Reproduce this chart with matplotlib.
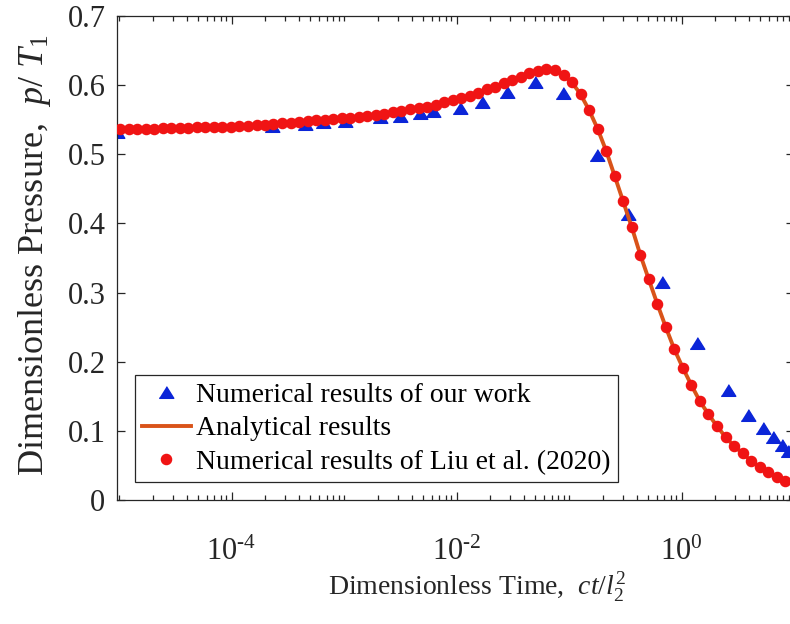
import numpy as np
import matplotlib.pyplot as plt
from matplotlib.ticker import FixedLocator, LogLocator, NullFormatter

plt.rcParams['font.family'] = ['Liberation Serif', 'DejaVu Serif']
plt.rcParams['mathtext.fontset'] = 'custom'
plt.rcParams['mathtext.rm'] = 'Liberation Serif'
plt.rcParams['mathtext.it'] = 'Liberation Serif:italic'
plt.rcParams['mathtext.bf'] = 'Liberation Serif:bold'

# Liu et al. (2020): log10 of dimensionless time and pressure
liu_logt = [-4.991, -4.915, -4.839, -4.764, -4.688, -4.612, -4.536, -4.460, -4.385, -4.309,
            -4.233, -4.157, -4.081, -4.006, -3.930, -3.854, -3.778, -3.702, -3.627, -3.551,
            -3.475, -3.399, -3.323, -3.248, -3.172, -3.096, -3.020, -2.944, -2.869, -2.793,
            -2.717, -2.641, -2.565, -2.490, -2.414, -2.338, -2.262, -2.186, -2.111, -2.035,
            -1.959, -1.883, -1.807, -1.732, -1.656, -1.580, -1.504, -1.428, -1.353, -1.277,
            -1.201, -1.125, -1.049, -0.974, -0.898, -0.822, -0.746, -0.670, -0.595, -0.519,
            -0.443, -0.367, -0.291, -0.216, -0.140, -0.064, 0.012, 0.088, 0.163, 0.239,
            0.315, 0.391, 0.467, 0.542, 0.618, 0.694, 0.770, 0.846, 0.921]
liu_p = [0.537, 0.537, 0.537, 0.537, 0.537, 0.538, 0.538, 0.538, 0.538, 0.539,
         0.539, 0.539, 0.540, 0.540, 0.541, 0.541, 0.542, 0.543, 0.544, 0.545,
         0.546, 0.547, 0.548, 0.549, 0.550, 0.551, 0.552, 0.553, 0.554, 0.556,
         0.557, 0.559, 0.561, 0.563, 0.565, 0.567, 0.569, 0.572, 0.575, 0.578,
         0.581, 0.585, 0.589, 0.594, 0.598, 0.603, 0.607, 0.612, 0.617, 0.621,
         0.624, 0.622, 0.615, 0.604, 0.587, 0.564, 0.537, 0.505, 0.469, 0.432,
         0.395, 0.355, 0.319, 0.284, 0.250, 0.218, 0.191, 0.166, 0.143, 0.124,
         0.107, 0.091, 0.078, 0.068, 0.056, 0.048, 0.040, 0.033, 0.028]
liu_t = 10.0 ** np.array(liu_logt)

# our numerical results
our_t = [9.6e-6, 2.29e-4, 4.51e-4, 6.52e-4, 1.02e-3, 2.09e-3, 3.15e-3, 4.74e-3,
         6.18e-3, 0.0107, 0.0169, 0.0282, 0.0499, 0.0885, 0.178, 0.335, 0.671,
         1.38, 2.59, 3.90, 5.31, 6.51, 7.83, 8.85]
our_p = [0.532, 0.541, 0.544, 0.547, 0.548, 0.554, 0.5555, 0.5597,
         0.5626, 0.567, 0.576, 0.590, 0.605, 0.589, 0.499, 0.414, 0.315,
         0.227, 0.159, 0.123, 0.104, 0.091, 0.080, 0.071]

x_major = [1e-4, 1e-2, 1e0]
x_labels = ['$10^{\\text{-}4}$', '$10^{\\text{-}2}$', '$10^{0}$']
y_major = [0, 0.1, 0.2, 0.3, 0.4, 0.5, 0.6, 0.7]
y_labels = ['0', '0.1', '0.2', '0.3', '0.4', '0.5', '0.6', '0.7']

# flattened up-triangle marker
tri = [(-1, -0.8), (1, -0.8), (0, 0.8)]

fig = plt.figure(figsize=(7.9, 6.24), dpi=100)
ax = fig.add_axes([0.1475, 0.1987, 0.8576, 0.7756])

ax.plot(our_t, our_p, linestyle='none', marker=tri, ms=10.5, color='#0b25d8',
        mec='#0b25d8', label='Numerical results of our work', zorder=2)
# analytical solution coincides with the Liu et al. curve
ax.plot(liu_t, liu_p, '-', color='#d95319', lw=2.8,
        label='Analytical results', zorder=3)
ax.plot(liu_t, liu_p, linestyle='none', marker='o', ms=7.3, color='#f01414',
        mec='#f01414', label='Numerical results of Liu et al. (2020)', zorder=4)

ax.set_xscale('log')
ax.set_xlim(9.5e-6, 10)
ax.set_ylim(0, 0.7)
ax.xaxis.set_major_locator(FixedLocator(x_major))
ax.set_xticklabels(x_labels)
ax.xaxis.set_minor_locator(LogLocator(base=10, subs=np.arange(1, 10), numticks=50))
ax.xaxis.set_minor_formatter(NullFormatter())
ax.set_yticks(y_major)
ax.set_yticklabels(y_labels)

ax.tick_params(which='both', direction='in', top=True, right=True,
               colors='#262626', labelcolor='#262626', width=0.9)
ax.tick_params(which='major', length=6, labelsize=22)
ax.tick_params(axis='y', which='major', pad=8)
ax.tick_params(axis='x', which='major', pad=27)
ax.tick_params(which='minor', length=3.5)
for s in ax.spines.values():
    s.set_color('#262626')
    s.set_linewidth(0.9)

ax.set_xlabel('Dimensionless Time,  $ct/l_2^2$', fontsize=20, color='#262626')
ax.set_ylabel('Dimensionless Pressure,  $p/\\ T_1$', fontsize=26, color='#262626')
ax.xaxis.set_label_coords(0.532, -0.145)
ax.yaxis.set_label_coords(-0.094, 0.505)

leg = ax.legend(loc='lower left', bbox_to_anchor=(0.0273, 0.037), fontsize=20,
                frameon=True, fancybox=False, framealpha=1, edgecolor='#262626',
                handlelength=1.75, handletextpad=0.2, labelspacing=0.3,
                borderpad=0.25, borderaxespad=0)
leg.get_frame().set_linewidth(0.9)

fig.savefig('out.png', dpi=100)
